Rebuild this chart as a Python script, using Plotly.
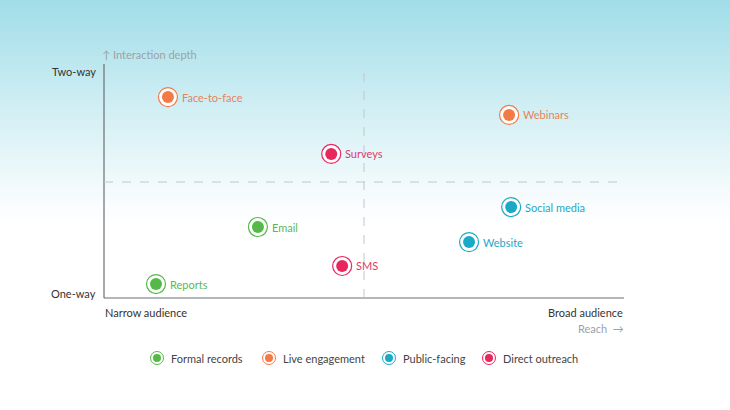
import plotly.graph_objects as go

# ---- data ----
names = ["Face-to-face", "Webinars", "Surveys", "Social media", "Email", "Website", "SMS", "Reports"]
reach = [1.23, 7.79, 4.37, 7.83, 2.96, 7.02, 4.58, 1.0]
depth = [8.66, 7.89, 6.21, 3.92, 3.06, 2.41, 1.38, 0.60]
groups = ["Live engagement", "Live engagement", "Direct outreach", "Public-facing",
          "Formal records", "Public-facing", "Direct outreach", "Formal records"]
categories = ["Formal records", "Live engagement", "Public-facing", "Direct outreach"]
colors = {"Formal records": "#55b948", "Live engagement": "#f47a45",
          "Public-facing": "#1aa9c6", "Direct outreach": "#e8275e"}
text_colors = {"Formal records": "#5db851", "Live engagement": "#e8825a",
               "Public-facing": "#25a8c4", "Direct outreach": "#dc3a6a"}

W, H = 730, 410
ML, MR, MT, MB = 104, 106, 66, 112
PW, PH = W - ML - MR, H - MT - MB
FONT = "Lato"
FS = 11

def px_x(px):
    return (px - ML) / PW

def px_y(py):
    return (H - MB - py) / PH

fig = go.Figure()

for cat in categories:
    xs = [x for x, g in zip(reach, groups) if g == cat]
    ys = [y for y, g in zip(depth, groups) if g == cat]
    fig.add_trace(go.Scatter(x=xs, y=ys, mode="markers", showlegend=False, hoverinfo="skip",
                             marker=dict(size=19, color="white",
                                         line=dict(color=colors[cat], width=1.2))))
    fig.add_trace(go.Scatter(x=xs, y=ys, mode="markers", showlegend=False, name=cat,
                             marker=dict(size=12, color=colors[cat], line=dict(width=0))))

annotations = []
for n, x, y, g in zip(names, reach, depth, groups):
    annotations.append(dict(x=x, y=y, xref="x", yref="y", text=n, showarrow=False,
                            xanchor="left", yanchor="middle", xshift=12,
                            font=dict(family=FONT, size=FS, color=text_colors[g])))

shapes = []
# gradient background
top = (160, 221, 232)
steps = 56
for i in range(steps):
    y0p = i * 4
    y1p = y0p + 4
    t = (i + 0.5) / steps
    f = max(0.0, 1 - t) ** 1.1
    c = tuple(int(round(255 - (255 - tc) * f)) for tc in top)
    shapes.append(dict(type="rect", xref="paper", yref="paper", layer="below",
                       x0=px_x(0), x1=px_x(W), y0=px_y(y1p), y1=px_y(y0p),
                       line=dict(width=0), fillcolor="rgb(%d,%d,%d)" % c))

# axes lines
shapes.append(dict(type="line", xref="paper", yref="paper", x0=0, x1=0, y0=0, y1=px_y(64),
                   line=dict(color="#6b7074", width=1.2)))
shapes.append(dict(type="line", xref="paper", yref="paper", x0=0, x1=1, y0=0, y1=0,
                   line=dict(color="#6b7074", width=1.2)))
# quadrant dashed lines
shapes.append(dict(type="line", xref="x", yref="paper", x0=5, x1=5, y0=0, y1=px_y(64),
                   line=dict(color="#c2c6c9", width=1, dash="dash")))
shapes.append(dict(type="line", xref="paper", yref="y", x0=0, x1=1, y0=5, y1=5,
                   line=dict(color="#c2c6c9", width=1, dash="dash")))

# axis annotations
annotations += [
    dict(x=px_x(100), y=px_y(54), xref="paper", yref="paper", text="↑ Interaction depth",
         showarrow=False, xanchor="left", yanchor="middle",
         font=dict(family=FONT, size=FS, color="#9aa3a8")),
    dict(x=px_x(98), y=px_y(71), xref="paper", yref="paper", text="Two-way",
         showarrow=False, xanchor="right", yanchor="middle",
         font=dict(family=FONT, size=FS, color="#333333")),
    dict(x=px_x(98), y=px_y(293), xref="paper", yref="paper", text="One-way",
         showarrow=False, xanchor="right", yanchor="middle",
         font=dict(family=FONT, size=FS, color="#333333")),
    dict(x=px_x(103), y=px_y(312), xref="paper", yref="paper", text="Narrow audience",
         showarrow=False, xanchor="left", yanchor="middle",
         font=dict(family=FONT, size=FS, color="#333333")),
    dict(x=px_x(625), y=px_y(312), xref="paper", yref="paper", text="Broad audience",
         showarrow=False, xanchor="right", yanchor="middle",
         font=dict(family=FONT, size=FS, color="#333333")),
    dict(x=px_x(626), y=px_y(328), xref="paper", yref="paper", text="Reach  →",
         showarrow=False, xanchor="right", yanchor="middle",
         font=dict(family=FONT, size=FS, color="#9aa3a8")),
]

# custom legend
leg_x = [157, 269, 389, 489]
leg_y = 358
for cat, lx in zip(categories, leg_x):
    cx = px_x(lx)
    cy = px_y(leg_y)
    shapes.append(dict(type="circle", xref="paper", yref="paper", xsizemode="pixel",
                       ysizemode="pixel", xanchor=cx, yanchor=cy, x0=-6.5, x1=6.5,
                       y0=-6.5, y1=6.5, fillcolor="white",
                       line=dict(color=colors[cat], width=1)))
    shapes.append(dict(type="circle", xref="paper", yref="paper", xsizemode="pixel",
                       ysizemode="pixel", xanchor=cx, yanchor=cy, x0=-4, x1=4,
                       y0=-4, y1=4, fillcolor=colors[cat], line=dict(width=0)))
    annotations.append(dict(x=px_x(lx + 12), y=cy, xref="paper", yref="paper", text=cat,
                            showarrow=False, xanchor="left", yanchor="middle",
                            font=dict(family=FONT, size=FS, color="#444444")))

fig.update_layout(
    width=W, height=H,
    margin=dict(l=ML, r=MR, t=MT, b=MB),
    paper_bgcolor="white", plot_bgcolor="rgba(0,0,0,0)",
    xaxis=dict(range=[0, 10], showgrid=False, zeroline=False, showticklabels=False,
               ticks="", showline=False, fixedrange=True),
    yaxis=dict(range=[0, 10], showgrid=False, zeroline=False, showticklabels=False,
               ticks="", showline=False, fixedrange=True),
    shapes=shapes, annotations=annotations, showlegend=False,
    font=dict(family=FONT),
)

fig.write_html("out.html")
